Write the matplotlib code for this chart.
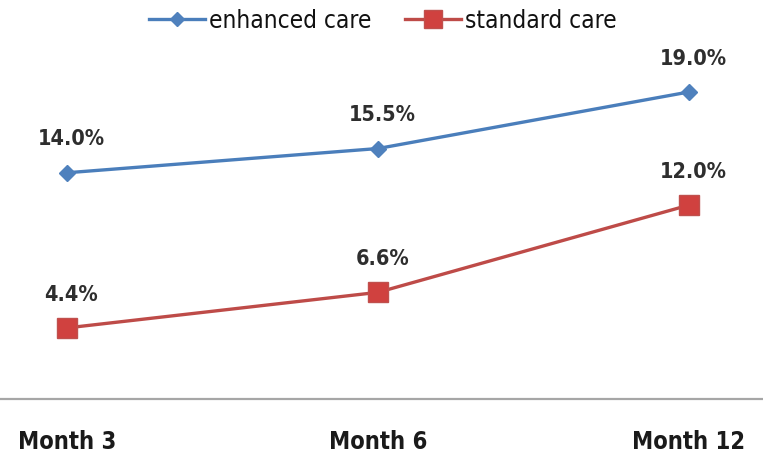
import matplotlib
matplotlib.use("Agg")
import matplotlib.pyplot as plt

categories = ["Month 3", "Month 6", "Month 12"]
enhanced = [14.0, 15.5, 19.0]
standard = [4.4, 6.6, 12.0]
series_names = ["enhanced care", "standard care"]

fig = plt.figure(figsize=(7.63, 4.55), dpi=100)
ax = fig.add_axes([0, 56 / 455, 1, 399 / 455])

x = list(range(len(categories)))
ax.plot(x, enhanced, color="#4A7EBB", lw=2.4, marker="D", ms=8,
        markerfacecolor="#4F81BD", markeredgecolor="#4F81BD",
        label=series_names[0])
ax.plot(x, standard, color="#BE4B48", lw=2.4, marker="s", ms=15,
        markerfacecolor="#D0413F", markeredgecolor="#C0504D",
        label=series_names[1])

for vals in (enhanced, standard):
    for xi, v in zip(x, vals):
        ax.annotate(f"{v:.1f}%", (xi, v), xytext=(3, 24),
                    textcoords="offset points", ha="center", va="center",
                    fontsize=15.5, color="#2e2e2e", family="DejaVu Sans",
                    fontstretch="condensed", fontweight="bold")

ax.set_xlim(-67 / 311, 2 + 74 / 311)
ax.set_ylim(0, 24.69)

for s in ("top", "right", "left"):
    ax.spines[s].set_visible(False)
ax.spines["bottom"].set_color("#A6A6A6")
ax.spines["bottom"].set_linewidth(1.6)
ax.set_yticks([])
ax.set_xticks(x)
ax.set_xticklabels(categories, fontsize=17, family="DejaVu Sans",
                   fontstretch="condensed", fontweight="bold", color="#1a1a1a")
ax.tick_params(axis="x", length=0, pad=22)

leg = ax.legend(loc="upper center", bbox_to_anchor=(0.502, 1.003), ncol=2,
                frameon=False,
                prop={"family": "DejaVu Sans", "size": 17.5,
                      "stretch": "condensed"},
                handlelength=2.3, columnspacing=1.4, handletextpad=0.15,
                borderaxespad=0.0, markerscale=0.85)
for t in leg.get_texts():
    t.set_color("#111111")

fig.savefig("out.png", dpi=100)
